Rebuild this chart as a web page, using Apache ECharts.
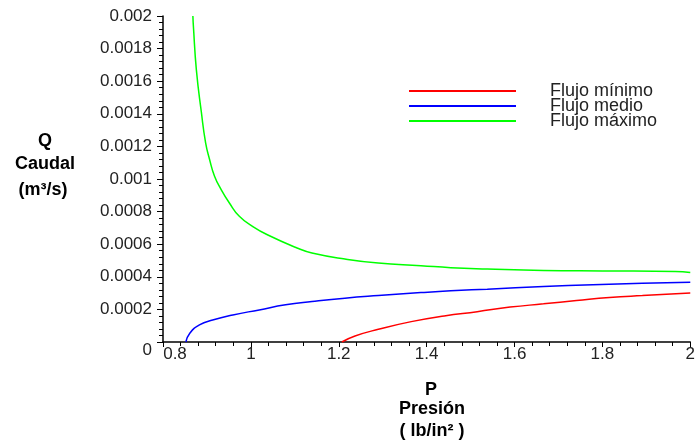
<!DOCTYPE html>
<html>
<head>
<meta charset="utf-8">
<script src="https://cdn.jsdelivr.net/npm/echarts@6/dist/echarts.min.js"></script>
<style>
  html, body { margin: 0; padding: 0; background: #fff; }
  #chart { width: 698px; height: 442px; }
</style>
</head>
<body>
<div id="chart"></div>
<script>
// presion (lb/in2) y caudal (m3/s)
var presMin = [1.207, 1.237, 1.290, 1.365, 1.440, 1.515, 1.590, 1.666, 1.741, 1.816, 1.891, 2.0];
var flujoMin = [0, 0.000037, 0.000078, 0.000125, 0.00016, 0.000186, 0.000214, 0.000234, 0.000254, 0.000273, 0.000285, 0.0003];

var presMed = [0.852, 0.861, 0.883, 0.913, 0.959, 1.019, 1.079, 1.139, 1.214, 1.290, 1.387, 1.455, 1.538, 1.666, 1.778, 1.891, 2.0];
var flujoMed = [0, 0.000054, 0.000105, 0.000135, 0.000166, 0.000197, 0.000228, 0.000248, 0.000269, 0.000285, 0.000303, 0.000314, 0.000324, 0.00034, 0.000351, 0.000361, 0.000367];

var presMax = [0.868, 0.8693, 0.876, 0.8873, 0.897, 0.906, 0.9173, 0.9324, 0.9511, 0.9737, 1.0037, 1.0375, 1.105, 1.139, 1.214, 1.290, 1.387, 1.455, 1.538, 1.666, 1.800, 1.966, 2.0];
var flujoMax = [0.002, 0.001932, 0.001668, 0.00141, 0.001222, 0.00112, 0.001017, 0.000935, 0.000853, 0.000771, 0.00071, 0.000658, 0.000577, 0.000546, 0.000509, 0.000484, 0.000468, 0.000456, 0.000448, 0.000439, 0.000436, 0.000433, 0.000426];

var nombres = ["Flujo mínimo", "Flujo medio", "Flujo máximo"];
var colores = ["#ff0000", "#0000ff", "#00ff00"];

function pares(xs, ys) {
  return xs.map(function (x, i) { return [x, ys[i]]; });
}

var myChart = echarts.init(document.getElementById("chart"));
var font = "Liberation Sans, Arial, sans-serif";

var serie = function (i, data) {
  return {
    name: nombres[i],
    type: "line",
    data: data,
    smooth: 0.5,
    showSymbol: false,
    symbol: "none",
    lineStyle: { color: colores[i], width: 1.5 },
    itemStyle: { color: colores[i] }
  };
};

function rotulo(texto, x, y) {
  return {
    type: "text",
    x: x,
    y: y,
    style: { text: texto, font: "bold 18px " + font, fill: "#000", align: "center", verticalAlign: "middle" }
  };
}

var option = {
  animation: false,
  backgroundColor: "#fff",
  legend: {
    orient: "vertical",
    left: 404,
    top: 77,
    icon: "rect",
    itemWidth: 107,
    itemHeight: 2,
    itemGap: -3,
    textStyle: {
      color: "#222",
      fontFamily: font,
      fontSize: 18,
      padding: [0, 0, 0, 29]
    },
    data: nombres
  },
  grid: {
    left: 163,
    right: 3,
    top: 16,
    bottom: 100,
    containLabel: false
  },
  xAxis: {
    type: "value",
    min: 0.8,
    max: 2,
    interval: 0.2,
    axisLine: { show: true, lineStyle: { color: "#000", width: 1.5 } },
    axisTick: { show: true, length: 5, lineStyle: { color: "#000" } },
    minorTick: { show: true, splitNumber: 5, length: 4, lineStyle: { color: "#000" } },
    splitLine: { show: false },
    axisLabel: {
      color: "#222",
      fontFamily: font,
      fontSize: 17,
      margin: 4,
      showMaxLabel: true,
      formatter: function (v) {
        var s = String(parseFloat(v.toFixed(1)));
        return v < 0.85 ? "{a|" + s + "}" : s;
      },
      rich: {
        a: { fontFamily: font, fontSize: 17, color: "#222", padding: [0, 0, 0, 24] }
      }
    }
  },
  yAxis: {
    type: "value",
    min: 0,
    max: 0.002,
    interval: 0.0002,
    axisLine: { show: true, lineStyle: { color: "#000", width: 1.5 } },
    axisTick: { show: true, length: 6, lineStyle: { color: "#000" } },
    minorTick: { show: true, splitNumber: 5, length: 4, lineStyle: { color: "#000" } },
    splitLine: { show: false },
    axisLabel: {
      color: "#222",
      fontFamily: font,
      fontSize: 17,
      margin: 11,
      formatter: function (v) {
        var s = String(parseFloat(v.toFixed(4)));
        return v === 0 ? "{z|0}" : s;
      },
      rich: {
        z: { fontFamily: font, fontSize: 17, color: "#222", padding: [16, 0, 0, 0] }
      }
    }
  },
  graphic: [
    rotulo("Q", 45, 141),
    rotulo("Caudal", 45, 164),
    rotulo("(m³/s)", 43, 190),
    rotulo("P", 431, 390),
    rotulo("Presión", 432, 409),
    rotulo("( lb/in² )", 432, 431)
  ],
  series: [
    serie(0, pares(presMin, flujoMin)),
    serie(1, pares(presMed, flujoMed)),
    serie(2, pares(presMax, flujoMax))
  ]
};

myChart.setOption(option);
</script>
</body>
</html>
